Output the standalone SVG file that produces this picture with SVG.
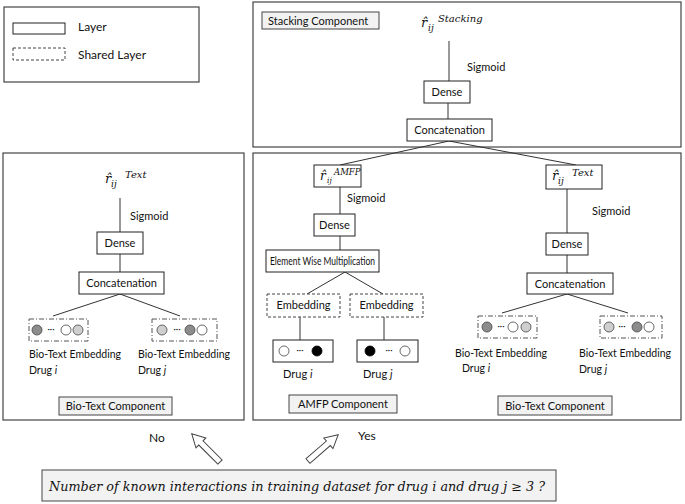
<svg xmlns="http://www.w3.org/2000/svg" width="685" height="504" viewBox="0 0 685 504">
<style>
.frame{fill:#fff;stroke:#444;stroke-width:1.2}
.layer{fill:#fff;stroke:#222;stroke-width:1}
.shared{fill:#fff;stroke:#444;stroke-width:1;stroke-dasharray:3,2}
.emb{fill:#fff;stroke:#555;stroke-width:1;stroke-dasharray:5,2,1,2}
.comp{fill:#f2f2f2;stroke:#444;stroke-width:1}
.t{font-family:Lato,"Open Sans",sans-serif;font-size:11px;fill:#111}
.tc{font-family:Lato,"Open Sans",sans-serif;font-size:11px;fill:#111;text-anchor:middle}
.e{font-family:Lato,"Open Sans",sans-serif;font-size:10.5px;fill:#111}
.m{font-family:"DejaVu Serif","Liberation Serif",serif;font-style:italic;fill:#111}
.c{stroke:#333;stroke-width:1;fill:none}
.dg{fill:#8c8c8c;stroke:#444;stroke-width:0.8}
.lg{fill:#cfcfcf;stroke:#444;stroke-width:0.8}
.wh{fill:#fff;stroke:#444;stroke-width:0.8}
.bk{fill:#000;stroke:#000;stroke-width:0.8}
.arr{fill:#fff;stroke:#444;stroke-width:1}
</style>

<g id="legend">
<rect class="frame" x="4" y="7" width="195" height="75"/>
<rect class="layer" x="13" y="23" width="52" height="11"/>
<rect class="shared" x="13" y="48" width="52" height="12"/>
<text class="t" x="78" y="31" style="font-size:12px">Layer</text>
<text class="t" x="78" y="59" style="font-size:12px">Shared Layer</text>
</g>

<g id="frames">
<rect class="frame" x="253" y="2" width="428" height="145"/>
<rect class="frame" x="3" y="153" width="241" height="267"/>
<rect class="frame" x="253" y="153" width="428" height="267"/>
</g>

<g id="connectors">
<line class="c" x1="449" y1="41" x2="449" y2="81"/>
<line class="c" x1="448" y1="103" x2="448" y2="119"/>
<line class="c" x1="449" y1="141" x2="340" y2="165"/>
<line class="c" x1="449" y1="141" x2="576" y2="165"/>
<line class="c" x1="120" y1="198" x2="120" y2="232"/>
<line class="c" x1="120" y1="254" x2="120" y2="272"/>
<line class="c" x1="120" y1="294" x2="53" y2="316"/>
<line class="c" x1="120" y1="294" x2="180" y2="316"/>
<line class="c" x1="340" y1="187" x2="340" y2="214"/>
<line class="c" x1="340" y1="236" x2="340" y2="250"/>
<line class="c" x1="345" y1="272" x2="307" y2="294"/>
<line class="c" x1="345" y1="272" x2="383" y2="294"/>
<line class="c" x1="300" y1="317" x2="300" y2="340"/>
<line class="c" x1="384" y1="317" x2="384" y2="340"/>
<line class="c" x1="567" y1="189" x2="567" y2="233"/>
<line class="c" x1="567" y1="255" x2="567" y2="273"/>
<line class="c" x1="567" y1="294" x2="502" y2="313"/>
<line class="c" x1="567" y1="294" x2="628" y2="313"/>
</g>

<g id="stacking">
<rect class="comp" x="262" y="12" width="117" height="17"/>
<text class="t" x="268" y="24.5">Stacking  Component</text>
<text class="m" x="421" y="27" style="font-size:13px">r̂<tspan x="428" y="31" style="font-size:9px">ij</tspan><tspan x="438" y="22" style="font-size:10px">Stacking</tspan></text>
<text class="t" x="467" y="71">Sigmoid</text>
<rect class="layer" x="424" y="81" width="46" height="22"/>
<text class="tc" x="447" y="96">Dense</text>
<rect class="layer" x="407" y="119" width="85" height="22"/>
<text class="tc" x="449.5" y="134">Concatenation</text>
</g>

<g id="biotext-left">
<text class="m" x="105" y="183" style="font-size:13px">r̂<tspan x="111" y="187" style="font-size:9px">ij</tspan><tspan x="125" y="178" style="font-size:10px">Text</tspan></text>
<text class="t" x="130" y="220">Sigmoid</text>
<rect class="layer" x="97" y="232" width="46" height="22"/>
<text class="tc" x="120" y="247">Dense</text>
<rect class="layer" x="79" y="272" width="85" height="22"/>
<text class="tc" x="121.5" y="287">Concatenation</text>
<rect class="emb" x="29" y="319" width="59" height="22"/>
<circle class="dg" cx="37" cy="330" r="5"/>
<text class="tc" x="51" y="332" style="font-size:9px">···</text>
<circle class="wh" cx="66" cy="330" r="5"/>
<circle class="lg" cx="78" cy="330" r="5"/>
<rect class="emb" x="152" y="319" width="65" height="22"/>
<circle class="lg" cx="162" cy="330" r="5"/>
<text class="tc" x="177" y="332" style="font-size:9px">···</text>
<circle class="dg" cx="190" cy="330" r="5"/>
<circle class="wh" cx="202" cy="330" r="5"/>
<text class="e" x="29" y="358">Bio-Text Embedding</text>
<text class="e" x="29" y="374">Drug <tspan font-style="italic">i</tspan></text>
<text class="e" x="138" y="358">Bio-Text Embedding</text>
<text class="e" x="138" y="374">Drug <tspan font-style="italic">j</tspan></text>
<rect class="comp" x="59" y="397" width="113" height="18"/>
<text class="tc" x="115.5" y="410">Bio-Text Component</text>
</g>

<g id="amfp">
<rect class="layer" x="314" y="165" width="47" height="22"/>
<text class="m" x="320" y="180" style="font-size:12px">r̂<tspan x="327" y="183" style="font-size:7.5px">ij</tspan><tspan x="334" y="175" style="font-size:8.5px">AMFP</tspan></text>
<text class="t" x="347" y="202">Sigmoid</text>
<rect class="layer" x="314" y="214" width="41" height="22"/>
<text class="tc" x="334.5" y="229">Dense</text>
<rect class="layer" x="266" y="250" width="113" height="22"/>
<text class="t" x="270" y="265" textLength="105" lengthAdjust="spacingAndGlyphs" style="font-size:10.5px">Element Wise Multiplication</text>
<rect class="shared" x="267" y="294" width="73" height="23"/>
<text class="tc" x="303.5" y="309">Embedding</text>
<rect class="shared" x="350" y="294" width="73" height="23"/>
<text class="tc" x="386.5" y="309">Embedding</text>
<rect class="layer" x="273" y="340" width="60" height="22"/>
<circle class="wh" cx="284" cy="351" r="5"/>
<text class="tc" x="300" y="353" style="font-size:9px">···</text>
<circle class="bk" cx="317" cy="351" r="5"/>
<rect class="layer" x="357" y="340" width="61" height="22"/>
<circle class="bk" cx="370" cy="351" r="5"/>
<text class="tc" x="389" y="353" style="font-size:9px">···</text>
<circle class="wh" cx="405" cy="351" r="5"/>
<text class="t" x="283" y="378">Drug <tspan font-style="italic">i</tspan></text>
<text class="t" x="363" y="378">Drug <tspan font-style="italic">j</tspan></text>
<rect class="comp" x="289" y="395" width="108" height="18"/>
<text class="t" x="298" y="408">AMFP  Component</text>
</g>

<g id="biotext-right">
<rect class="layer" x="546" y="165" width="56" height="24"/>
<text class="m" x="552" y="180" style="font-size:13px">r̂<tspan x="558" y="184" style="font-size:9px">ij</tspan><tspan x="572" y="176" style="font-size:10px">Text</tspan></text>
<text class="t" x="592" y="215">Sigmoid</text>
<rect class="layer" x="546" y="233" width="42" height="22"/>
<text class="tc" x="567" y="248">Dense</text>
<rect class="layer" x="527" y="273" width="86" height="21"/>
<text class="tc" x="570" y="287.5">Concatenation</text>
<rect class="emb" x="478" y="316" width="59" height="22"/>
<circle class="dg" cx="487" cy="327" r="5"/>
<text class="tc" x="501" y="329" style="font-size:9px">···</text>
<circle class="wh" cx="513" cy="327" r="5"/>
<circle class="lg" cx="526" cy="327" r="5"/>
<rect class="emb" x="600" y="316" width="62" height="22"/>
<circle class="lg" cx="609" cy="327" r="5"/>
<text class="tc" x="622" y="329" style="font-size:9px">···</text>
<circle class="dg" cx="637" cy="327" r="5"/>
<circle class="wh" cx="649" cy="327" r="5"/>
<text class="e" x="455" y="357">Bio-Text Embedding</text>
<text class="e" x="462" y="372">Drug <tspan font-style="italic">i</tspan></text>
<text class="e" x="579" y="357">Bio-Text Embedding</text>
<text class="e" x="579" y="373">Drug <tspan font-style="italic">j</tspan></text>
<rect class="comp" x="498" y="396" width="114" height="19"/>
<text class="tc" x="555" y="409.5">Bio-Text Component</text>
</g>

<g id="decision">
<text class="t" x="149" y="442" style="font-size:12px">No</text>
<text class="t" x="358" y="440" style="font-size:12px">Yes</text>
<polygon class="arr" points="0,-3 27,-3 27,-7 40,0 27,7 27,3 0,3" transform="translate(220,462) rotate(-135)"/>
<polygon class="arr" points="0,-3 27,-3 27,-7 40,0 27,7 27,3 0,3" transform="translate(308,461) rotate(-41)"/>
<rect class="comp" x="42" y="470" width="514" height="31"/>
<text class="m" x="49" y="491" textLength="496" lengthAdjust="spacingAndGlyphs" style="font-size:12.5px">Number of known interactions  in training dataset for drug i and drug j ≥ 3 ?</text>
</g>
</svg>
